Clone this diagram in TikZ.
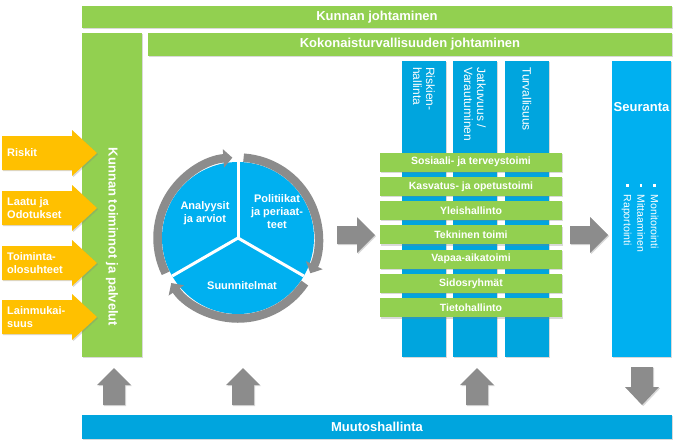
\documentclass[tikz,border=0pt]{standalone}
\usepackage{fontspec}
\setmainfont{Liberation Sans}
\usetikzlibrary{shadows,arrows.meta}

\definecolor{kgreen}{HTML}{92D050}
\definecolor{korange}{HTML}{FFC000}
\definecolor{kblue}{HTML}{00B0F0}
\definecolor{kdblue}{HTML}{00A5DE}
\definecolor{kgray}{HTML}{8C8C8C}

\newcommand{\sqbul}{\rule[.25em]{2.5pt}{2.5pt}\hspace{8pt}}

\tikzset{
  sdw/.style={drop shadow={shadow xshift=1.2pt,shadow yshift=-1.2pt,opacity=0.3}},
  bigtxt/.style={text=white,font=\bfseries\fontsize{13}{15}\selectfont,inner sep=0pt},
  midtxt/.style={text=white,font=\bfseries\fontsize{11}{13}\selectfont,inner sep=0pt},
  rowtxt/.style={text=white,font=\bfseries\fontsize{10.5}{12}\selectfont,inner sep=0pt},
  coltxt/.style={text=white,font=\fontsize{12}{13}\selectfont,inner sep=0pt,align=left,rotate=-90,anchor=west},
}

\begin{document}
\begin{tikzpicture}[x=1pt,y=-1pt]
  \useasboundingbox (0,0) rectangle (679,445);

  % green frame
  \fill[kgreen,sdw] (82,6) rectangle (672,28);
  \node[bigtxt] (johto) at (377,17) {Kunnan johtaminen};
  \fill[kgreen,sdw] (148,33) rectangle (672,56);
  \node[bigtxt] (koko) at (410,44.5) {Kokonaisturvallisuuden johtaminen};
  \fill[kgreen,sdw] (82,33) rectangle (142,357);
  \node[bigtxt,rotate=-90] (palv) at (112,237) {Kunnan toiminnot ja palvelut};

  % inputs
  \foreach \y/\txt [count=\i] in {153/Riskit,208/{Laatu ja\\Odotukset},263/{Toiminta-\\olosuhteet},317/{Lainmukai-\\suus}} {
    \fill[korange,sdw] (2,\y-17) -- (72,\y-17) -- (72,\y-23) -- (97,\y) -- (72,\y+23) -- (72,\y+17) -- (2,\y+17) -- cycle;
    \node[midtxt,align=left,anchor=west] (in\i) at (7,\y) {\txt};
  }

  % columns
  \foreach \x/\txt [count=\i] in {402/{Riskien-\\hallinta},453/{Jatkuvuus /\\Varautuminen},505/Turvallisuus} {
    \fill[kdblue,sdw] (\x,61) rectangle ++(44,296);
    \node[coltxt] (col\i) at (\x+22,67) {\txt};
  }
  \foreach \txt [count=\i] in {Sosiaali- ja terveystoimi,Kasvatus- ja opetustoimi,Yleishallinto,Tekninen toimi,Vapaa-aikatoimi,Sidosryhmät,Tietohallinto} {
    \fill[kgreen,sdw] (380,{152.5+24.3*(\i-1)}) rectangle ++(182,19);
    \node[rowtxt] (row\i) at (471,{162+24.3*(\i-1)}) {\txt};
  }

  % follow-up
  \fill[kblue,sdw] (612,61) rectangle (671,357);
  \node[bigtxt] (seur) at (641.5,107) {Seuranta};
  \node[coltxt,font=\fontsize{10.5}{13.5}\selectfont] (mitt) at (640,184) {\sqbul Monitorointi\\\sqbul Mittaaminen\\\sqbul Raportointi};

  \fill[kdblue,sdw] (82,415) rectangle (672,439);
  \node[bigtxt] (muutos) at (377,427) {Muutoshallinta};

  % gray arrows
  \foreach \x in {337,570}
    \fill[kgray,sdw] (\x,226) -- ++(20,0) -- ++(0,-9) -- ++(18,18) -- ++(-18,18) -- ++(0,-9) -- ++(-20,0) -- cycle;
  \foreach \x in {114,243,477}
    \fill[kgray,sdw] (\x-11,405) -- ++(0,-20) -- ++(-6,0) -- ++(17,-17) -- ++(17,17) -- ++(-6,0) -- ++(0,20) -- cycle;
  \fill[kgray,sdw] (631,367) -- ++(0,20) -- ++(-6,0) -- ++(17,18) -- ++(17,-18) -- ++(-6,0) -- ++(0,-20) -- cycle;

  % cycle
  \begin{scope}[shift={(238,238)},y=1pt]
    \fill[kblue] (0,0) circle (76);
    \foreach \a in {90,-30,210}
      \draw[white,line width=3pt] (0,0) -- (\a:76);
    \foreach \s/\e in {206/94,86/-26,-34/-146}
      \draw[kgray,line width=8.5pt,-{Triangle[width=18pt,length=9pt]}] (\s:80.5) arc[start angle=\s,end angle=\e,radius=80.5];
    \node[midtxt,align=center] (anal) at (-33,25) {Analyysit\\ja arviot};
    \node[midtxt,align=center] (poli) at (39,26) {Politiikat\\ja periaat-\\teet};
    \node[midtxt] (suun) at (4,-48) {Suunnitelmat};
  \end{scope}
\end{tikzpicture}
\end{document}
